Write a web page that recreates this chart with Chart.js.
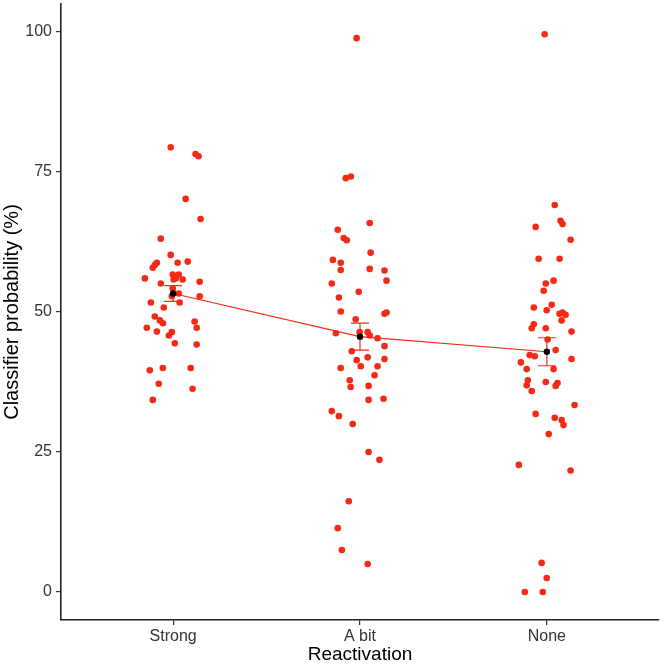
<!DOCTYPE html>
<html>
<head>
<meta charset="utf-8">
<script src="https://cdn.jsdelivr.net/npm/chart.js@4/dist/chart.umd.min.js"></script>
<style>
  html, body { margin: 0; padding: 0; background: #ffffff; }
  #wrap { width: 663px; height: 664px; }
</style>
</head>
<body>
<div id="wrap"><canvas id="c" width="663" height="664"></canvas></div>
<script>
// ---- Data ----
const categories = ['Strong', 'A bit', 'None'];
const yTicks = [0, 25, 50, 75, 100];

const strongValues = [79.4, 78.2, 77.8, 70.2, 66.6, 63.1, 60.2, 58.8, 58.4, 57.9, 58.8, 59.0, 56.0, 56.7, 56.7,
  56.0, 55.8, 55.8, 55.4, 55.1, 54.2, 53.3, 52.8, 52.8, 51.7, 51.7, 50.8, 49.2, 48.5, 48.0, 48.3, 47.2, 47.2,
  46.5, 46.4, 45.8, 44.4, 44.2, 39.6, 40.0, 40.0, 37.2, 36.3, 34.3];
const strongJitter = [-0.013, 0.120, 0.136, 0.067, 0.147, -0.066, -0.013, -0.087, -0.098, -0.109, 0.024, 0.078, -0.151, -0.002, 0.030,
  0.014, 0.051, 0.003, 0.142, -0.066, -0.002, 0.030, -0.007, 0.142, -0.119, 0.035, -0.050, -0.098, -0.071, -0.055, 0.115, 0.126, -0.141,
  -0.087, -0.007, -0.023, 0.009, 0.126, -0.125, -0.055, 0.094, -0.077, 0.104, -0.109];

const abitValues = [98.9, 73.9, 74.2, 65.9, 64.7, 63.2, 62.8, 60.6, 59.3, 58.8, 57.5, 57.7, 57.4, 55.6, 55.1,
  53.6, 52.6, 50.1, 49.7, 49.9, 48.7, 46.2, 46.4, 46.4, 45.8, 45.3, 43.9, 43.0, 41.4, 41.9, 41.6, 40.0, 40.3,
  40.3, 38.7, 37.8, 36.6, 36.8, 34.3, 34.5, 32.3, 31.4, 30.0, 25.0, 23.6, 16.2, 11.4, 7.5, 5.0];
const abitJitter = [-0.018, -0.076, -0.049, 0.052, -0.119, -0.087, -0.071, 0.057, -0.145, -0.103, -0.103, 0.052, 0.131, 0.142, -0.151,
  -0.007, -0.113, -0.103, 0.131, 0.142, -0.023, -0.129, -0.002, 0.041, 0.052, 0.094, 0.131, -0.044, -0.018, 0.041, 0.131, -0.103, 0.004,
  0.094, 0.078, -0.055, -0.050, 0.046, 0.046, 0.126, -0.151, -0.113, -0.039, 0.046, 0.104, -0.060, -0.119, -0.097, 0.041];

const noneValues = [99.6, 69.1, 66.3, 65.7, 65.2, 62.9, 59.5, 59.5, 55.1, 55.6, 53.8, 50.8, 50.3, 51.3, 49.7,
  49.9, 49.5, 48.5, 47.8, 47.1, 47.1, 46.5, 45.1, 43.2, 42.3, 42.1, 41.6, 41.0, 39.8, 39.8, 37.8, 36.9, 35.9,
  37.5, 37.3, 36.8, 33.4, 31.8, 31.1, 30.7, 29.8, 28.2, 22.7, 21.7, 5.2, 2.5, 0.0, 0.0];
const noneJitter = [-0.012, 0.042, 0.073, 0.084, -0.060, 0.127, -0.044, 0.068, -0.006, 0.036, -0.017, -0.070, -0.001, 0.026, 0.068,
  0.084, 0.100, 0.079, -0.070, -0.081, -0.006, 0.132, 0.004, 0.047, -0.092, -0.065, 0.132, -0.139, -0.108, 0.036, -0.102, -0.108, -0.081,
  -0.006, 0.057, 0.047, 0.148, -0.060, 0.042, 0.079, 0.089, 0.010, -0.150, 0.127, -0.028, -0.001, -0.118, -0.022];

const meanValues = [53.3, 45.6, 42.9];
const seValues = [1.4, 2.4, 2.5];

// ---- Build library structures ----
function toPoints(values, jitter, catIndex) {
  return values.map((v, i) => ({ x: catIndex + 1 + jitter[i], y: v }));
}
const allPoints = []
  .concat(toPoints(strongValues, strongJitter, 0))
  .concat(toPoints(abitValues, abitJitter, 1))
  .concat(toPoints(noneValues, noneJitter, 2));
const meanPoints = meanValues.map((m, i) => ({ x: i + 1, y: m }));

const RED = '#f42a16';
const FONT = "'Liberation Sans', Arial, Helvetica, sans-serif";

const errorBarPlugin = {
  id: 'errorBars',
  afterDatasetsDraw(chart) {
    const ctx = chart.ctx;
    const xs = chart.scales.x, ys = chart.scales.y;
    const capHalf = 0.048; // in category units
    ctx.save();
    ctx.strokeStyle = RED;
    ctx.lineWidth = 1.2;
    meanValues.forEach((m, i) => {
      const cx = xs.getPixelForValue(i + 1);
      const x0 = xs.getPixelForValue(i + 1 - capHalf);
      const x1 = xs.getPixelForValue(i + 1 + capHalf);
      const yHi = ys.getPixelForValue(m + seValues[i]);
      const yLo = ys.getPixelForValue(m - seValues[i]);
      ctx.beginPath();
      ctx.moveTo(cx, yHi); ctx.lineTo(cx, yLo);
      ctx.moveTo(x0, yHi); ctx.lineTo(x1, yHi);
      ctx.moveTo(x0, yLo); ctx.lineTo(x1, yLo);
      ctx.stroke();
    });
    ctx.fillStyle = '#000000';
    meanValues.forEach((m, i) => {
      const cx = xs.getPixelForValue(i + 1);
      const cy = ys.getPixelForValue(m);
      ctx.beginPath();
      ctx.arc(cx, cy, 3.2, 0, Math.PI * 2);
      ctx.fill();
    });
    ctx.restore();
  }
};

function zeroPad(scale) {
  scale.paddingTop = 0; scale.paddingBottom = 0;
  scale.paddingLeft = 0; scale.paddingRight = 0;
}

new Chart(document.getElementById('c'), {
  type: 'scatter',
  data: {
    datasets: [
      {
        type: 'line',
        label: 'mean',
        data: meanPoints,
        borderColor: RED,
        borderWidth: 1.2,
        pointRadius: 0,
        fill: false,
        tension: 0,
        order: 0
      },
      {
        label: 'points',
        data: allPoints,
        backgroundColor: RED,
        borderColor: RED,
        borderWidth: 0,
        pointRadius: 3.3,
        order: 1
      }
    ]
  },
  options: {
    responsive: false,
    animation: false,
    devicePixelRatio: 1,
    layout: { padding: { top: 0, right: -3, left: 0, bottom: 0 } },
    plugins: { legend: { display: false }, tooltip: { enabled: false } },
    scales: {
      x: {
        type: 'linear',
        min: 0.4,
        max: 3.6,
        afterBuildTicks(scale) { scale.ticks = categories.map((c, i) => ({ value: i + 1 })); },
        afterFit(scale) { scale.height = 44; zeroPad(scale); },
        ticks: {
          callback: (v) => categories[Math.round(v) - 1] || '',
          color: '#333333',
          font: { family: FONT, size: 16 },
          padding: 2,
          maxRotation: 0
        },
        grid: { drawOnChartArea: false, drawTicks: true, tickLength: 5, color: '#333333', lineWidth: 1.2 },
        border: { display: true, color: '#222222', width: 1.6 },
        title: {
          display: true,
          text: 'Reactivation',
          color: '#000000',
          font: { family: FONT, size: 19, lineHeight: 1 },
          padding: { top: 0, bottom: 0 }
        }
      },
      y: {
        type: 'linear',
        min: -5,
        max: 105,
        afterBuildTicks(scale) { scale.ticks = yTicks.map(v => ({ value: v })); },
        afterFit(scale) { scale.width = 61; zeroPad(scale); },
        ticks: {
          color: '#333333',
          font: { family: FONT, size: 16 },
          padding: 4
        },
        grid: { drawOnChartArea: false, drawTicks: true, tickLength: 5, color: '#333333', lineWidth: 1.2 },
        border: { display: true, color: '#222222', width: 1.6 },
        title: {
          display: true,
          text: 'Classifier probability (%)',
          color: '#000000',
          font: { family: FONT, size: 20, lineHeight: 1 },
          padding: { top: 2, bottom: 0 }
        }
      }
    }
  },
  plugins: [errorBarPlugin]
});
</script>
</body>
</html>
